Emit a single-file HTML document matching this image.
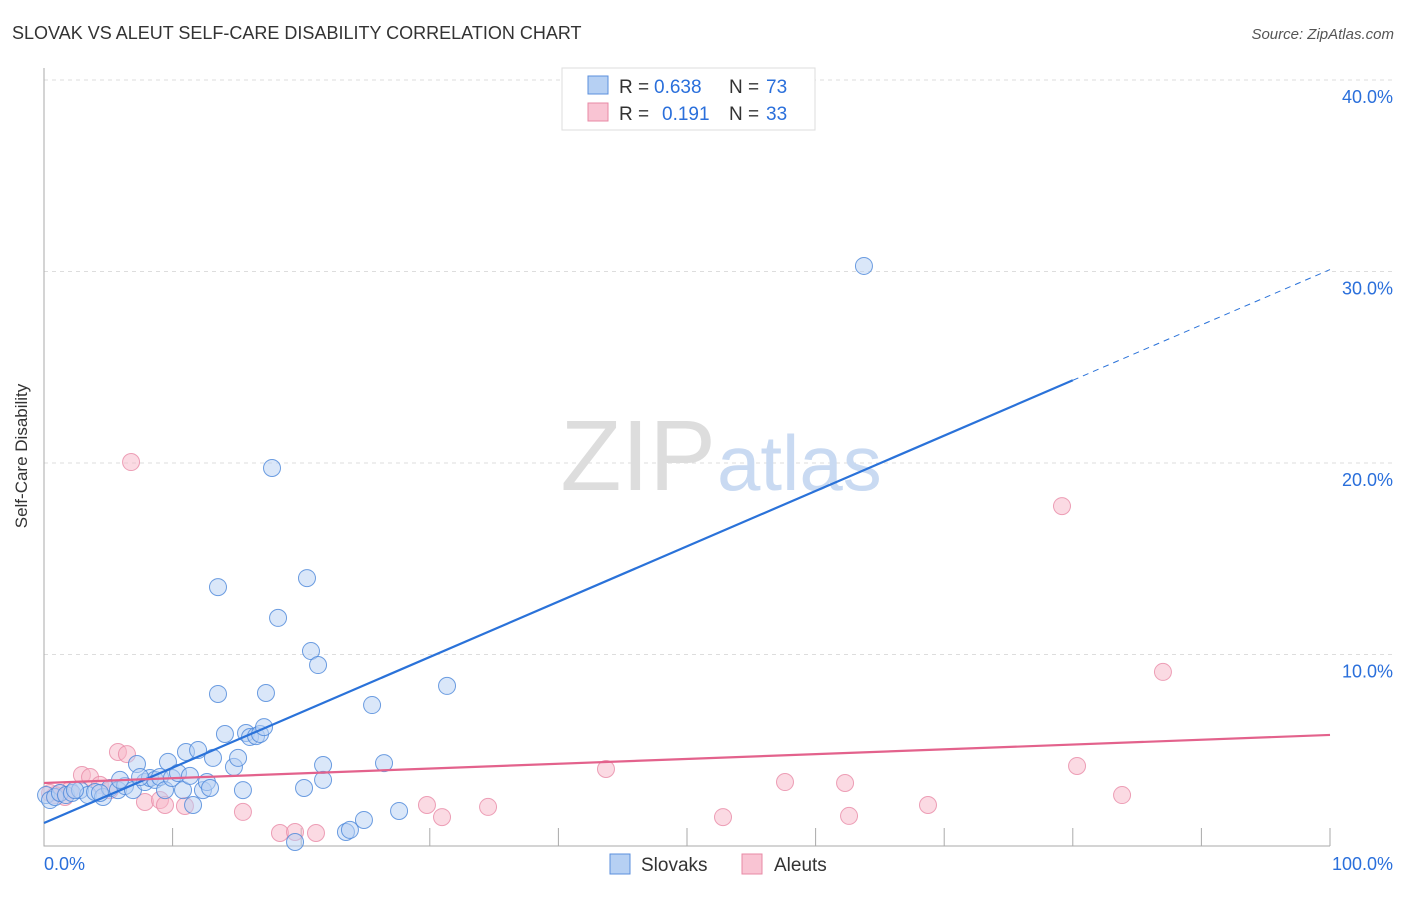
<!DOCTYPE html>
<html><head><meta charset="utf-8"><style>
body{margin:0;background:#fff;font-family:"Liberation Sans",sans-serif}
svg text{font-family:"Liberation Sans",sans-serif}
</style></head><body>
<svg width="1406" height="892" id="chart">
<text x="12" y="39" font-size="18" fill="#333">SLOVAK VS ALEUT SELF-CARE DISABILITY CORRELATION CHART</text>
<text x="1394" y="39" font-size="15" fill="#555" text-anchor="end" font-style="italic">Source: ZipAtlas.com</text>
<text x="27" y="456" font-size="17" fill="#333" text-anchor="middle" transform="rotate(-90 27 456)">Self-Care Disability</text>
<g id="grid"></g>
<text x="716" y="490" font-size="100" fill="#ddd" text-anchor="end" font-family="Liberation Serif">ZIP</text>
<text x="717" y="490" font-size="78" fill="#c9daf2">atlas</text>
<g id="marks"></g>
<g>
<rect x="562" y="68" width="253" height="62" fill="#fff" stroke="#ddd"/>
<rect x="588" y="76" width="20" height="18" fill="#b6d0f3" stroke="#5b8fdc"/>
<rect x="588" y="103" width="20" height="18" fill="#f9c4d3" stroke="#e88aa6"/>
<text x="619" y="93" font-size="19" fill="#333">R =</text>
<text x="654" y="93" font-size="19" fill="#2a6fdb">0.638</text>
<text x="729" y="93" font-size="19" fill="#333">N =</text>
<text x="766" y="93" font-size="19" fill="#2a6fdb">73</text>
<text x="619" y="120" font-size="19" fill="#333">R =</text>
<text x="662" y="120" font-size="19" fill="#2a6fdb">0.191</text>
<text x="729" y="120" font-size="19" fill="#333">N =</text>
<text x="766" y="120" font-size="19" fill="#2a6fdb">33</text>
</g>
<g>
<rect x="610" y="854" width="20" height="20" fill="#b6d0f3" stroke="#5b8fdc"/>
<text x="641" y="871" font-size="19" fill="#333">Slovaks</text>
<rect x="742" y="854" width="20" height="20" fill="#f9c4d3" stroke="#e88aa6"/>
<text x="774" y="871" font-size="19" fill="#333">Aleuts</text>
</g>
</svg>
<script>
const yTicks=[10,20,30,40];
const yTickLabels=["10.0%","20.0%","30.0%","40.0%"];
const xTickLabels=["0.0%","100.0%"];
const slovakX=[0.16,0.47,0.86,1.24,1.71,2.18,2.80,3.42,3.97,4.59,5.13,5.75,6.30,6.92,7.23,7.85,8.24,8.63,9.02,9.41,9.64,9.95,10.42,10.81,11.04,11.35,11.59,11.98,12.36,12.67,12.91,13.14,13.53,13.53,14.07,14.77,15.09,15.47,15.71,16.02,16.49,16.80,17.11,17.26,17.73,18.20,20.22,20.45,20.76,21.31,21.70,21.70,23.48,23.79,24.88,25.51,26.44,27.61,31.34,63.76,19.52,7.47,5.91,4.35,2.41];
const slovakY=[2.66,2.40,2.56,2.77,2.66,2.77,2.92,2.66,2.82,2.56,3.03,2.92,3.13,2.92,4.28,3.34,3.55,3.45,3.60,2.92,4.39,3.55,3.81,2.92,4.91,3.66,2.14,5.01,2.92,3.34,3.03,4.60,7.94,13.52,5.85,4.13,4.60,2.92,5.90,5.69,5.74,5.85,6.21,7.99,19.74,11.91,3.03,13.99,10.18,9.45,4.23,3.45,0.73,0.84,1.36,7.36,4.33,1.83,8.36,30.29,0.21,3.60,3.45,2.77,2.92];
const aleutX=[6.77,5.75,6.45,2.95,3.58,2.02,1.24,4.35,7.85,9.02,9.41,10.96,15.47,18.35,19.52,21.15,29.78,30.95,34.53,43.70,52.80,57.62,62.29,62.60,68.74,79.16,80.33,83.83,87.01,0.86,1.63,5.13,0.47];
const aleutY=[20.05,4.91,4.80,3.71,3.60,2.92,2.77,3.19,2.30,2.40,2.14,2.09,1.78,0.68,0.73,0.68,2.14,1.51,2.04,4.02,1.51,3.34,3.29,1.57,2.14,17.75,4.18,2.66,9.09,2.66,2.56,2.92,2.77];
const blueTrend=[1.2,0.289]; const pinkTrend=[3.29,0.0251];
const X=v=>44+v*12.86, Y=v=>846-v*19.15;
const NS="http://www.w3.org/2000/svg";
function mk(t,a,p){const e=document.createElementNS(NS,t);for(const k in a)e.setAttribute(k,a[k]);p.appendChild(e);return e;}
const g=document.getElementById('grid'), m=document.getElementById('marks');
yTicks.forEach((t,i)=>{
 const l=mk('line',{x1:44,x2:1393,y1:Y(t),y2:Y(t),stroke:'#ddd','stroke-dasharray':'4,4'},g);
 
 
 const tx=mk('text',{x:1393,y:Y(t)+23,'font-size':18,fill:'#2a6fdb','text-anchor':'end'},g);
 tx.textContent=yTickLabels[i];
 
 
});
const ax=mk('path',{d:'M44 68V846H1330',fill:'none',stroke:'#aaa'},g);


for(let i=1;i<=10;i++){const t=mk('line',{x1:X(i*10),x2:X(i*10),y1:828,y2:846,stroke:'#aaa'},g);
 
 }
[[0,'start',44],[100,'end',1393]].forEach((d,i)=>{const t=mk('text',{x:d[2],y:870,'font-size':18,fill:'#2a6fdb','text-anchor':d[1]},g);t.textContent=xTickLabels[i];
 
 });
function dots(xs,ys,fill,st,name){xs.forEach((x,i)=>{const c=mk('circle',{cx:X(x),cy:Y(ys[i]),r:8.5,fill:fill,'fill-opacity':0.5,stroke:st,'stroke-opacity':0.8,'stroke-width':1},m);
 
 });}
dots(aleutX,aleutY,'#f7b6c8','#e88aa6','aleut-point');
dots(slovakX,slovakY,'#b6d0f3','#4a86da','slovak-point');
const b1=mk('line',{x1:X(0),y1:Y(blueTrend[0]),x2:X(80),y2:Y(blueTrend[0]+80*blueTrend[1]),stroke:'#2a72d9','stroke-width':2.2},m);


const b2=mk('line',{x1:X(80),y1:Y(blueTrend[0]+80*blueTrend[1]),x2:X(100),y2:Y(blueTrend[0]+100*blueTrend[1]),stroke:'#2a72d9','stroke-width':1,'stroke-dasharray':'6,5'},m);


const p1=mk('line',{x1:X(0),y1:Y(pinkTrend[0]),x2:X(100),y2:Y(pinkTrend[0]+100*pinkTrend[1]),stroke:'#e3628c','stroke-width':2.2},m);


</script>
</body></html>
